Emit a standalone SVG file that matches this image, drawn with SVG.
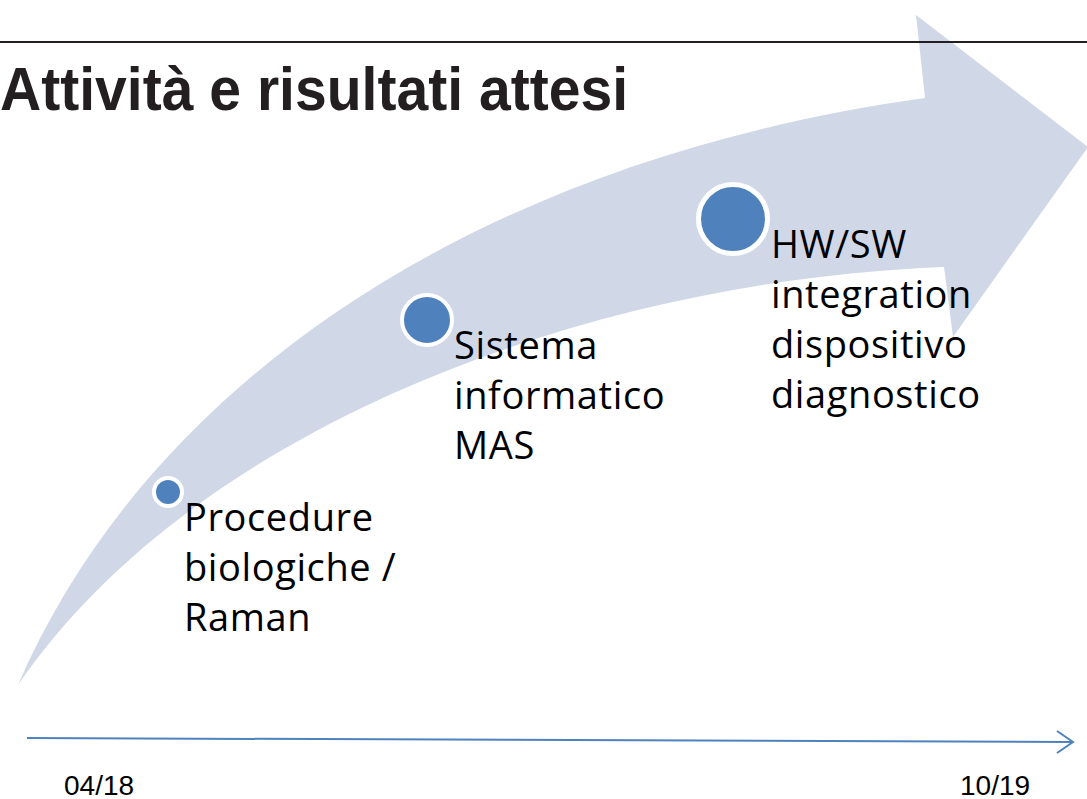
<svg xmlns="http://www.w3.org/2000/svg" width="1087" height="799" viewBox="0 0 1087 799">
  <defs>
    <style>
      .band { fill: #D0D8E8; }
      .dot { fill: #4F81BD; stroke: #FFFFFF; }
      .lbl { font-family: "Open Sans", "Noto Sans", sans-serif; font-size: 38px; letter-spacing: 0.6px; fill: #000000; }
      .title { font-family: "Liberation Sans", Arial, sans-serif; font-weight: bold; font-size: 61px; fill: #231F20; }
      .date { font-family: "Liberation Sans", Arial, sans-serif; font-size: 28px; fill: #000000; }
      .axis { fill: none; stroke: #4F81BD; stroke-width: 2; }
    </style>
  </defs>
  <rect width="1087" height="799" fill="#FFFFFF"/>

  <g id="progress-arrow">
    <path class="band" d="M 18,685 C 150,380 480,160 925,98 L 916,15 L 1088,147 L 953,337 L 944,267 C 600,280 200,420 18,685 Z"/>
  </g>

  <g id="header">
    <line x1="0" y1="42" x2="1087" y2="42" stroke="#231F20" stroke-width="2"/>
    <text class="title" x="0" y="110" textLength="628" lengthAdjust="spacingAndGlyphs">Attività e risultati attesi</text>
  </g>

  <g id="milestone-1">
    <circle class="dot" cx="168" cy="492" r="14" stroke-width="4"/>
    <text class="lbl" x="184" y="531">Procedure</text>
    <text class="lbl" x="184" y="581">biologiche /</text>
    <text class="lbl" x="184" y="631">Raman</text>
  </g>

  <g id="milestone-2">
    <circle class="dot" cx="427" cy="320" r="25" stroke-width="4"/>
    <text class="lbl" x="454" y="359">Sistema</text>
    <text class="lbl" x="454" y="409">informatico</text>
    <text class="lbl" x="454" y="459">MAS</text>
  </g>

  <g id="milestone-3">
    <circle class="dot" cx="733" cy="219" r="34.5" stroke-width="5"/>
    <text class="lbl" x="771" y="258">HW/SW</text>
    <text class="lbl" x="771" y="308">integration</text>
    <text class="lbl" x="771" y="358">dispositivo</text>
    <text class="lbl" x="771" y="408">diagnostico</text>
  </g>

  <g id="connectors">
    <line class="axis" x1="27" y1="738" x2="1072" y2="742"/>
    <polyline class="axis" points="1057,731 1073,742 1057,753"/>
  </g>

  <g id="dates">
    <text class="date" x="64" y="795">04/18</text>
    <text class="date" x="960" y="795">10/19</text>
  </g>
</svg>
